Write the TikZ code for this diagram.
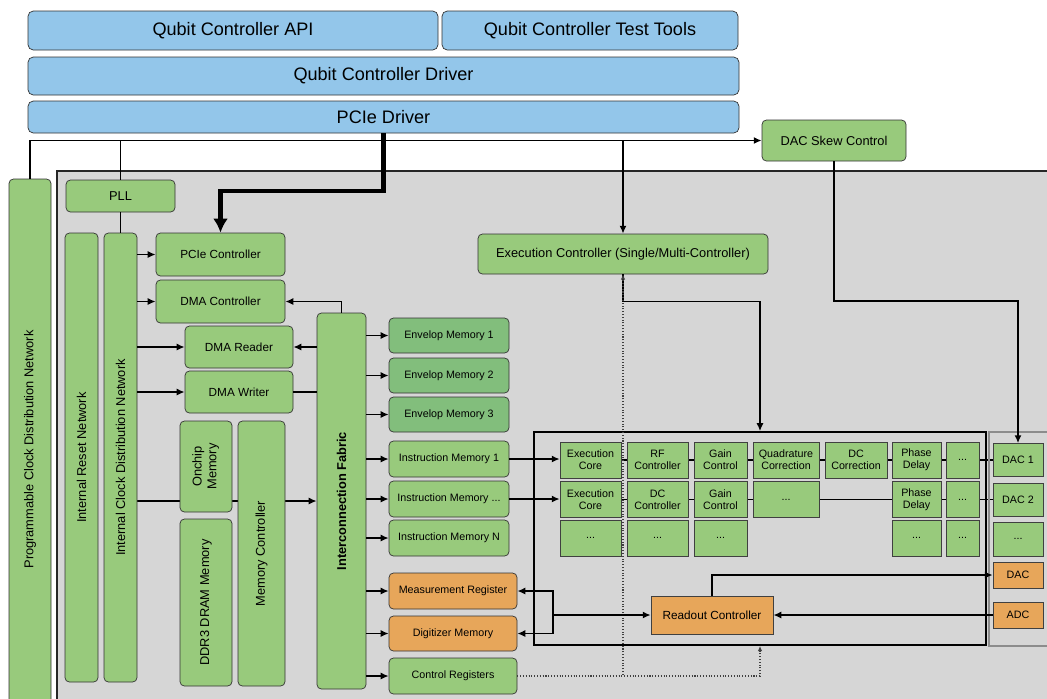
\documentclass[tikz,border=0pt]{standalone}
\usepackage{fontspec}
\setmainfont{Liberation Sans}
\usepackage{graphicx}
\usepackage{xcolor}
\usepackage{tikz}
\usetikzlibrary{positioning, arrows.meta, backgrounds}

\definecolor{apiblue}{HTML}{93C6EA}
\definecolor{boxgreen}{HTML}{98CA7C}
\definecolor{envgreen}{HTML}{82BE7C}
\definecolor{readorange}{HTML}{E7A65A}
\definecolor{fpgagray}{HTML}{D6D6D6}

\begin{document}
\begin{tikzpicture}[
    % Define common styles
        x=0.02cm, y=-0.02cm,
        sz/.style 2 args={minimum width=#1*0.02cm, minimum height=#2*0.02cm},
        bigtxt/.style={font=\fontsize{7.3}{8.5}\selectfont},
        smalltxt/.style={font=\fontsize{6.1}{7}\selectfont},
        bar/.style={draw=black!80, fill=apiblue, rounded corners=3pt, inner sep=0pt, font=\fontsize{10.3}{12}\selectfont},
        gbox/.style={draw=black!80, fill=boxgreen, rounded corners=2.5pt, inner sep=0pt, align=center, font=\fontsize{6.7}{8}\selectfont},
        vbox/.style={gbox, bigtxt},
        envbox/.style={gbox, smalltxt, fill=envgreen},
        obox/.style={gbox, smalltxt, fill=readorange},
        cell/.style={draw=black!75, fill=boxgreen, inner sep=0pt, align=center, smalltxt},
        ocell/.style={cell, fill=readorange},
        wire/.style={line width=0.85pt},
        arrow/.style={-{Latex[length=4.5pt,width=4pt]}, line width=0.85pt},
        fatarrow/.style={-{Latex[length=8pt,width=8.5pt]}, line width=2.3pt},
        dotarrow/.style={densely dotted, -{Latex[length=3pt,width=2.6pt]}, line width=0.6pt, black!75}
    ]
        \useasboundingbox (0,0) rectangle (1047,698);

        % FPGA area
        \begin{scope}[on background layer]
            \fill[fpgagray] (57,171) rectangle (1060,710);
        \end{scope}
        \draw[line width=1pt, black!85] (57,710) -- (57,171) -- (1060,171);

        % Software stack
        \node[bar, sz={410}{39}] (api) at (233,30.5) {Qubit Controller API};
        \node[bar, sz={296}{39}] (tools) at (590,30.5) {Qubit Controller Test Tools};
        \node[bar, sz={711}{38}] (driver) at (383.5,76) {Qubit Controller Driver};
        \node[bar, sz={711}{32}] (pciedrv) at (383.5,117) {PCIe Driver};

        \node[gbox, bigtxt, sz={144}{41}] (skew) at (834,140.5) {DAC Skew Control};

        % Clock and reset
        \node[vbox, sz={42}{541}] (progclk) at (30,449.5) {\rotatebox{90}{Programmable Clock Distribution Network}};
        \node[gbox, bigtxt, sz={109}{32}] (pll) at (120.5,196) {PLL};
        \node[vbox, sz={33}{449}] (rst) at (81.5,457.5) {\rotatebox{90}{Internal Reset Network}};
        \node[vbox, sz={33}{449}] (iclk) at (120.5,457.5) {\rotatebox{90}{Internal Clock Distribution Network}};

        % PCIe / DMA / memory
        \node[gbox, sz={129}{43}] (pciectl) at (220.5,254.5) {PCIe Controller};
        \node[gbox, sz={129}{43}] (dmactl) at (220.5,301.5) {DMA Controller};
        \node[gbox, sz={108}{42}] (dmard) at (239,347) {DMA Reader};
        \node[gbox, sz={108}{42}] (dmawr) at (239,392) {DMA Writer};
        \node[vbox, sz={52}{91}] (onchip) at (206,466.5) {\rotatebox{90}{\begin{tabular}{@{}c@{}}Onchip\\Memory\end{tabular}}};
        \node[vbox, sz={52}{167}] (ddr) at (206,602.5) {\rotatebox{90}{DDR3 DRAM Memory}};
        \node[vbox, sz={47}{265}] (memctl) at (261.5,553.5) {\rotatebox{90}{Memory Controller}};
        \node[vbox, sz={49}{376}] (fabric) at (341.5,501) {\rotatebox{90}{\bfseries Interconnection Fabric}};

        % Memories and registers
        \node[envbox, sz={120}{35}] (env1) at (449,335.5) {Envelop Memory 1};
        \node[envbox, sz={120}{35}] (env2) at (449,375.5) {Envelop Memory 2};
        \node[envbox, sz={120}{35}] (env3) at (449,414.5) {Envelop Memory 3};
        \node[gbox, smalltxt, sz={120}{36}] (ins1) at (449,459) {Instruction Memory 1};
        \node[gbox, smalltxt, sz={120}{36}] (insd) at (449,499) {Instruction Memory ...};
        \node[gbox, smalltxt, sz={120}{36}] (insn) at (449,538) {Instruction Memory N};
        \node[obox, sz={128}{36}] (meas) at (453,591) {Measurement Register};
        \node[obox, sz={128}{35}] (digi) at (453,633.5) {Digitizer Memory};
        \node[gbox, smalltxt, sz={128}{36}] (ctrl) at (453,676) {Control Registers};

        % Execution controller and pipeline region
        \node[gbox, bigtxt, sz={290}{40}] (execctl) at (623,254) {Execution Controller (Single/Multi-Controller)};
        \node[draw=black, line width=1pt, inner sep=0pt, sz={452}{213}] (region) at (760,538.5) {};
        \node[draw=black!45, line width=0.8pt, inner sep=0pt, sz={70}{214}] (dacpanel) at (1024,539) {};

        % Pipeline row 1
        \node[cell, sz={61}{36}] (core1) at (590.5,460) {Execution\\Core};
        \node[cell, sz={61}{36}] (rf1) at (657.5,460) {RF\\Controller};
        \node[cell, sz={53}{36}] (gain1) at (720.5,460) {Gain\\Control};
        \node[cell, sz={66}{36}] (quad1) at (786,460) {Quadrature\\Correction};
        \node[cell, sz={62}{36}] (dcc1) at (856,460) {DC\\Correction};
        \node[cell, sz={49}{36}] (phase1) at (916.5,460) {Phase\\Delay};
        \node[cell, sz={33}{36}] (more1) at (962.5,460) {...};
        \node[cell, sz={50}{33}] (dac1) at (1018,460) {DAC 1};
        % Pipeline row 2
        \node[cell, sz={61}{36}] (core2) at (590.5,499.5) {Execution\\Core};
        \node[cell, sz={61}{36}] (dcc2) at (657.5,499.5) {DC\\Controller};
        \node[cell, sz={53}{36}] (gain2) at (720.5,499.5) {Gain\\Control};
        \node[cell, sz={66}{36}] (more2) at (786,499.5) {...};
        \node[cell, sz={49}{36}] (phase2) at (916.5,499.5) {Phase\\Delay};
        \node[cell, sz={33}{36}] (more2b) at (962.5,499.5) {...};
        \node[cell, sz={50}{33}] (dac2) at (1018,499.5) {DAC 2};
        % Pipeline row 3
        \node[cell, sz={61}{36}] (more3a) at (590.5,538) {...};
        \node[cell, sz={61}{36}] (more3b) at (657.5,538) {...};
        \node[cell, sz={53}{36}] (more3c) at (720.5,538) {...};
        \node[cell, sz={49}{36}] (more3d) at (916.5,538) {...};
        \node[cell, sz={33}{36}] (more3e) at (962.5,538) {...};
        \node[cell, sz={50}{34}] (dac3) at (1018,539) {...};

        % Readout path
        \node[ocell, sz={50}{26}] (dac) at (1018,575) {DAC};
        \node[ocell, sz={50}{26}] (adc) at (1018,615) {ADC};
        \node[ocell, font=\fontsize{6.7}{8}\selectfont, sz={122}{38}] (readout) at (712,615) {Readout Controller};
        \coordinate (rdsplit) at (553,615);

        % Lines hidden behind boxes
        \begin{scope}[on background layer]
            \draw[arrow] (iclk.east |- fabric) -- (fabric.west);
            \draw[wire] (core1) -- (dac1);
            \draw[wire] (core2) -- (dac2);
        \end{scope}

        % Host bus
        \draw[arrow] (progclk.north) |- (skew.west);
        \draw[wire] (pll.north) -- (pll.north |- skew.west);
        \draw[fatarrow] (pciedrv.south) -- ++(0,58) -| (pciectl.north);
        \draw[arrow] (execctl.north |- skew.west) -- (execctl.north);
        \draw[wire] (pll) -- (iclk);

        % Clock network arrows
        \foreach \m in {pciectl,dmactl,dmard,dmawr}
            \draw[arrow] (iclk.east |- \m) -- (\m.west);

        % Fabric links
        \draw[arrow] (fabric.north) |- (dmactl.east);
        \draw[arrow] (fabric.west |- dmard) -- (dmard.east);
        \draw[wire] (dmawr.east) -- (fabric.west |- dmawr);
        \foreach \m in {env1,env2,env3,ins1,insd,insn,meas,digi,ctrl}
            \draw[arrow] (fabric.east |- \m) -- (\m.west);

        % Instructions into the cores
        \draw[arrow] (ins1.east) -- (ins1.east -| core1.west);
        \draw[arrow] (insd.east) -- (insd.east -| core2.west);

        % Control paths
        \draw[arrow] (execctl.south) -- ++(0,27) -| (region.north);
        \draw[arrow] (skew.south) -- ++(0,139.5) -| (dac1.north);
        \draw[dotarrow] (ctrl.east) -| (execctl.south);
        \draw[dotarrow] (ctrl.east) -| (region.south);

        % Readout
        \draw[arrow] (readout.north) |- (dac.west);
        \draw[arrow] (adc.west) -- (readout.east);
        \draw[arrow] (rdsplit) -- (readout.west);
        \draw[arrow] (rdsplit) |- (meas.east);
        \draw[arrow] (rdsplit) |- (digi.east);

    \end{tikzpicture}
\end{document}
